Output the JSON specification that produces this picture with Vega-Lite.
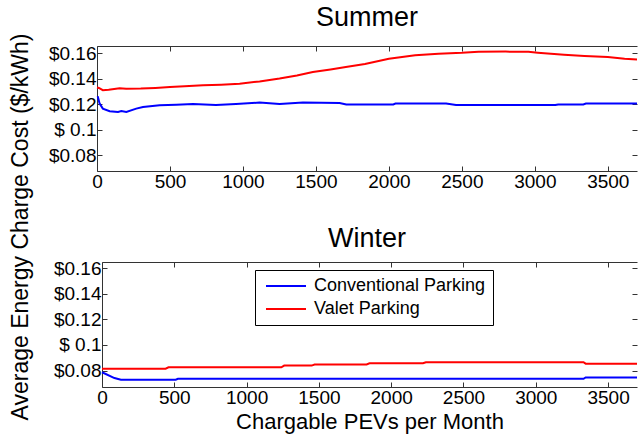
{
  "$schema": "https://vega.github.io/schema/vega-lite/v6.json",
  "background": "white",
  "padding": {"left": 10, "top": 4, "right": 0, "bottom": 2},
  "title": {"text": "Average Energy Charge Cost ($/kWh)", "orient": "left", "anchor": "middle", "fontSize": 23, "offset": 15, "dx": -9},
  "datasets": {
    "summer": [
      {"x": 5, "cost": 0.1262, "type": "Conventional Parking"},
      {"x": 18, "cost": 0.1204, "type": "Conventional Parking"},
      {"x": 40, "cost": 0.1165, "type": "Conventional Parking"},
      {"x": 87, "cost": 0.1145, "type": "Conventional Parking"},
      {"x": 144, "cost": 0.1139, "type": "Conventional Parking"},
      {"x": 167, "cost": 0.1146, "type": "Conventional Parking"},
      {"x": 201, "cost": 0.1139, "type": "Conventional Parking"},
      {"x": 269, "cost": 0.1165, "type": "Conventional Parking"},
      {"x": 315, "cost": 0.1178, "type": "Conventional Parking"},
      {"x": 429, "cost": 0.1191, "type": "Conventional Parking"},
      {"x": 543, "cost": 0.1196, "type": "Conventional Parking"},
      {"x": 658, "cost": 0.1201, "type": "Conventional Parking"},
      {"x": 815, "cost": 0.1193, "type": "Conventional Parking"},
      {"x": 952, "cost": 0.1201, "type": "Conventional Parking"},
      {"x": 1114, "cost": 0.1212, "type": "Conventional Parking"},
      {"x": 1251, "cost": 0.1201, "type": "Conventional Parking"},
      {"x": 1411, "cost": 0.1212, "type": "Conventional Parking"},
      {"x": 1662, "cost": 0.1209, "type": "Conventional Parking"},
      {"x": 1708, "cost": 0.1198, "type": "Conventional Parking"},
      {"x": 2030, "cost": 0.1198, "type": "Conventional Parking"},
      {"x": 2045, "cost": 0.1205, "type": "Conventional Parking"},
      {"x": 2392, "cost": 0.1205, "type": "Conventional Parking"},
      {"x": 2460, "cost": 0.1193, "type": "Conventional Parking"},
      {"x": 3140, "cost": 0.1193, "type": "Conventional Parking"},
      {"x": 3160, "cost": 0.1198, "type": "Conventional Parking"},
      {"x": 3332, "cost": 0.1198, "type": "Conventional Parking"},
      {"x": 3350, "cost": 0.1205, "type": "Conventional Parking"},
      {"x": 3700, "cost": 0.1205, "type": "Conventional Parking"},
      {"x": 0, "cost": 0.1330, "type": "Valet Parking"},
      {"x": 13, "cost": 0.1327, "type": "Valet Parking"},
      {"x": 40, "cost": 0.1309, "type": "Valet Parking"},
      {"x": 80, "cost": 0.1312, "type": "Valet Parking"},
      {"x": 155, "cost": 0.1325, "type": "Valet Parking"},
      {"x": 200, "cost": 0.1321, "type": "Valet Parking"},
      {"x": 300, "cost": 0.1322, "type": "Valet Parking"},
      {"x": 400, "cost": 0.1327, "type": "Valet Parking"},
      {"x": 500, "cost": 0.1334, "type": "Valet Parking"},
      {"x": 600, "cost": 0.1340, "type": "Valet Parking"},
      {"x": 727, "cost": 0.1347, "type": "Valet Parking"},
      {"x": 850, "cost": 0.1352, "type": "Valet Parking"},
      {"x": 977, "cost": 0.1360, "type": "Valet Parking"},
      {"x": 1114, "cost": 0.1378, "type": "Valet Parking"},
      {"x": 1251, "cost": 0.1400, "type": "Valet Parking"},
      {"x": 1370, "cost": 0.1425, "type": "Valet Parking"},
      {"x": 1479, "cost": 0.1452, "type": "Valet Parking"},
      {"x": 1600, "cost": 0.1472, "type": "Valet Parking"},
      {"x": 1705, "cost": 0.1490, "type": "Valet Parking"},
      {"x": 1836, "cost": 0.1515, "type": "Valet Parking"},
      {"x": 2000, "cost": 0.1556, "type": "Valet Parking"},
      {"x": 2180, "cost": 0.1582, "type": "Valet Parking"},
      {"x": 2340, "cost": 0.1595, "type": "Valet Parking"},
      {"x": 2500, "cost": 0.1602, "type": "Valet Parking"},
      {"x": 2614, "cost": 0.1610, "type": "Valet Parking"},
      {"x": 2800, "cost": 0.1611, "type": "Valet Parking"},
      {"x": 2956, "cost": 0.1610, "type": "Valet Parking"},
      {"x": 3020, "cost": 0.1603, "type": "Valet Parking"},
      {"x": 3200, "cost": 0.1587, "type": "Valet Parking"},
      {"x": 3340, "cost": 0.1577, "type": "Valet Parking"},
      {"x": 3500, "cost": 0.1569, "type": "Valet Parking"},
      {"x": 3615, "cost": 0.1556, "type": "Valet Parking"},
      {"x": 3700, "cost": 0.1550, "type": "Valet Parking"}
    ],
    "winter": [
      {"x": 0, "cost": 0.0787, "type": "Conventional Parking"},
      {"x": 86, "cost": 0.0742, "type": "Conventional Parking"},
      {"x": 131, "cost": 0.0729, "type": "Conventional Parking"},
      {"x": 510, "cost": 0.0729, "type": "Conventional Parking"},
      {"x": 525, "cost": 0.0736, "type": "Conventional Parking"},
      {"x": 3330, "cost": 0.0736, "type": "Conventional Parking"},
      {"x": 3345, "cost": 0.0747, "type": "Conventional Parking"},
      {"x": 3700, "cost": 0.0747, "type": "Conventional Parking"},
      {"x": 0, "cost": 0.0815, "type": "Valet Parking"},
      {"x": 440, "cost": 0.0815, "type": "Valet Parking"},
      {"x": 460, "cost": 0.0826, "type": "Valet Parking"},
      {"x": 1240, "cost": 0.0826, "type": "Valet Parking"},
      {"x": 1260, "cost": 0.0839, "type": "Valet Parking"},
      {"x": 1450, "cost": 0.0839, "type": "Valet Parking"},
      {"x": 1470, "cost": 0.0848, "type": "Valet Parking"},
      {"x": 1830, "cost": 0.0848, "type": "Valet Parking"},
      {"x": 1850, "cost": 0.0857, "type": "Valet Parking"},
      {"x": 2220, "cost": 0.0857, "type": "Valet Parking"},
      {"x": 2240, "cost": 0.0865, "type": "Valet Parking"},
      {"x": 3330, "cost": 0.0865, "type": "Valet Parking"},
      {"x": 3345, "cost": 0.0854, "type": "Valet Parking"},
      {"x": 3700, "cost": 0.0854, "type": "Valet Parking"}
    ]
  },
  "concat": [
    {
      "data": {"name": "summer"},
      "title": {"text": "Summer", "offset": 12},
      "width": 540,
      "height": 125,
      "layer": [
        {
          "mark": {"type": "line", "strokeWidth": 2},
          "encoding": {
            "x": {"field": "x", "type": "quantitative", "scale": {"domain": [0, 3700], "nice": false, "zero": false},
                  "axis": {"values": [0, 500, 1000, 1500, 2000, 2500, 3000, 3500], "format": "d", "title": null}},
            "y": {"field": "cost", "type": "quantitative", "scale": {"domain": [0.0677, 0.1655], "nice": false, "zero": false},
                  "axis": {"values": [0.08, 0.1, 0.12, 0.14, 0.16], "labelExpr": "abs(datum.value - 0.1) < 0.0001 ? '$ 0.1' : '$' + format(datum.value, '.2f')", "title": null}},
            "color": {"field": "type", "type": "nominal", "scale": {"domain": ["Conventional Parking", "Valet Parking"], "range": ["#0000ff", "#ff0000"]}, "legend": null}
          }
        },
        {
          "mark": {"type": "line", "opacity": 0},
          "encoding": {
            "x": {"field": "x", "type": "quantitative", "scale": {"domain": [0, 3700], "nice": false, "zero": false},
                  "axis": {"orient": "top", "values": [0, 500, 1000, 1500, 2000, 2500, 3000, 3500], "labels": false, "title": null}},
            "y": {"field": "cost", "type": "quantitative", "scale": {"domain": [0.0677, 0.1655], "nice": false, "zero": false},
                  "axis": {"orient": "right", "values": [0.08, 0.1, 0.12, 0.14, 0.16], "labels": false, "title": null, "domain": false}},
            "detail": {"field": "type"}
          }
        }
      ],
      "resolve": {"axis": {"x": "independent", "y": "independent"}}
    },
    {
      "data": {"name": "winter"},
      "title": {"text": "Winter", "offset": 6},
      "width": 540,
      "height": 125,
      "layer": [
        {
          "mark": {"type": "line", "strokeWidth": 2},
          "encoding": {
            "x": {"field": "x", "type": "quantitative", "scale": {"domain": [0, 3700], "range": [5, 540], "nice": false, "zero": false},
                  "axis": {"values": [0, 500, 1000, 1500, 2000, 2500, 3000, 3500], "format": "d", "title": "Chargable PEVs per Month", "titleFontSize": 22, "titlePadding": 4}},
            "y": {"field": "cost", "type": "quantitative", "scale": {"domain": [0.0672, 0.1648], "nice": false, "zero": false},
                  "axis": {"values": [0.08, 0.1, 0.12, 0.14, 0.16], "labelExpr": "abs(datum.value - 0.1) < 0.0001 ? '$ 0.1' : '$' + format(datum.value, '.2f')", "title": null, "offset": -5}},
            "color": {"field": "type", "type": "nominal", "scale": {"domain": ["Conventional Parking", "Valet Parking"], "range": ["#0000ff", "#ff0000"]},
                      "legend": {"title": null, "orient": "none", "legendX": 158, "legendY": 8, "strokeColor": "black", "fillColor": "white", "padding": 7, "rowPadding": 5, "labelFontSize": 18, "labelFont": "Liberation Sans", "labelColor": "black", "labelLimit": 400, "symbolType": "M-1,0L7,0", "symbolSize": 100, "symbolStrokeWidth": 2, "labelOffset": 34}}
          }
        },
        {
          "mark": {"type": "line", "opacity": 0},
          "encoding": {
            "x": {"field": "x", "type": "quantitative", "scale": {"domain": [0, 3700], "range": [5, 540], "nice": false, "zero": false},
                  "axis": {"orient": "top", "values": [0, 500, 1000, 1500, 2000, 2500, 3000, 3500], "labels": false, "title": null}},
            "y": {"field": "cost", "type": "quantitative", "scale": {"domain": [0.0672, 0.1648], "nice": false, "zero": false},
                  "axis": {"orient": "right", "values": [0.08, 0.1, 0.12, 0.14, 0.16], "labels": false, "title": null, "domain": false}},
            "detail": {"field": "type"}
          }
        }
      ],
      "resolve": {"axis": {"x": "independent", "y": "independent"}}
    }
  ],
  "columns": 1,
  "spacing": 34,
  "resolve": {"scale": {"color": "independent"}, "legend": {"color": "independent"}},
  "config": {
    "font": "Liberation Sans",
    "view": {"stroke": null},
    "axis": {"grid": false, "domainColor": "#333333", "tickColor": "#333333", "labelColor": "black", "titleColor": "black", "labelFontSize": 19, "labelFont": "Liberation Sans", "titleFont": "Liberation Sans", "titleFontWeight": "normal", "tickSize": -5, "labelPadding": 6, "labelFlush": false, "labelOverlap": false},
    "title": {"fontSize": 27, "fontWeight": "normal", "font": "Liberation Sans", "color": "black"}
  }
}
